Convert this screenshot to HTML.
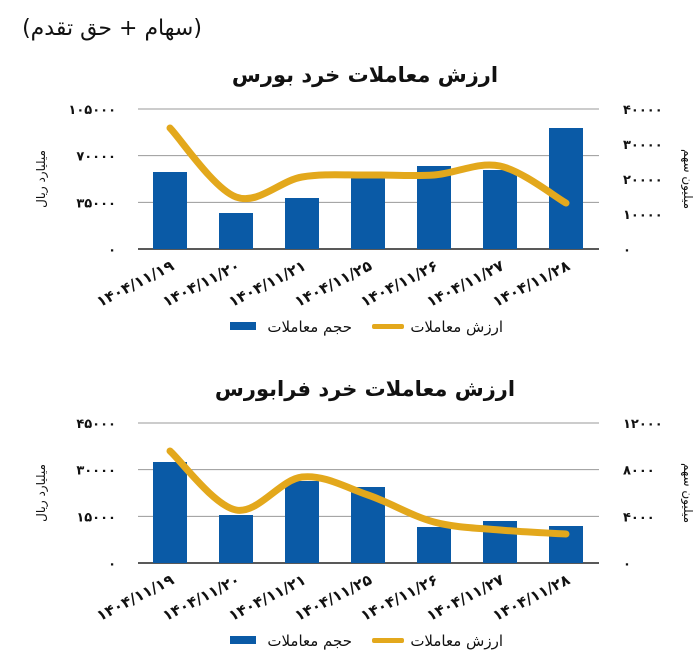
<!DOCTYPE html>
<html><head><meta charset="utf-8"><style>
body{margin:0;background:#fff;width:700px;height:663px;overflow:hidden}
svg{display:block}
text{font-family:"DejaVu Sans","Liberation Sans",sans-serif}
</style></head><body>
<svg id="s" width="700" height="663" xmlns="http://www.w3.org/2000/svg">
<text x="112" y="35" font-size="22" text-anchor="middle" fill="#111">(سهام + حق تقدم)</text>
<text x="365" y="82" font-size="21" font-weight="bold" text-anchor="middle" fill="#111">ارزش معاملات خرد بورس</text>
<text x="365" y="396" font-size="21" font-weight="bold" text-anchor="middle" fill="#111">ارزش معاملات خرد فرابورس</text>
<g id="c1"></g><g id="c2"></g>
</svg>
<script>
const NS="http://www.w3.org/2000/svg";
const dates=["۱۴۰۴/۱۱/۱۹","۱۴۰۴/۱۱/۲۰","۱۴۰۴/۱۱/۲۱","۱۴۰۴/۱۱/۲۵","۱۴۰۴/۱۱/۲۶","۱۴۰۴/۱۱/۲۷","۱۴۰۴/۱۱/۲۸"];
const xs=[170,236,302,368,434,500,566];
function el(p,t,a,txt){const e=document.createElementNS(NS,t);for(const k in a)e.setAttribute(k,a[k]);if(txt!==undefined)e.textContent=txt;p.appendChild(e);return e;}
function chart(g,top,base,ll,rl,bars,line,legY){
  const step=(base-top)/3;
  for(let i=0;i<4;i++){const y=top+i*step;
    el(g,"line",{x1:138,x2:599,y1:y,y2:y,stroke:i==3?"#222":"#999","stroke-width":i==3?1.5:1});
    el(g,"text",{x:116,y:y+5,"font-size":13,"font-weight":"bold","text-anchor":"end",fill:"#111"},ll[3-i]);
  }
  const rs=(base-top)/(rl.length-1);
  rl.forEach((v,i)=>el(g,"text",{x:623,y:base-i*rs+5,"font-size":13,"font-weight":"bold",fill:"#111"},v));
  const my=(top+base)/2;
  el(g,"text",{x:0,y:0,"font-size":12,"text-anchor":"middle",fill:"#111",transform:`translate(45,${my}) rotate(-90)`},"میلیارد ریال");
  el(g,"text",{x:0,y:0,"font-size":12,"text-anchor":"middle",fill:"#111",transform:`translate(684,${my}) rotate(90)`},"میلیون سهم");
  bars.forEach((b,i)=>el(g,"rect",{x:xs[i]-17,y:b,width:34,height:base-b,fill:"#0a5aa6"}));
  let d=`M${xs[0]},${line[0]}`;
  for(let i=0;i<6;i++){
    const p0=[xs[Math.max(i-1,0)],line[Math.max(i-1,0)]],p1=[xs[i],line[i]],p2=[xs[i+1],line[i+1]],p3=[xs[Math.min(i+2,6)],line[Math.min(i+2,6)]];
    const c1=[p1[0]+(p2[0]-p0[0])/6,p1[1]+(p2[1]-p0[1])/6],c2=[p2[0]-(p3[0]-p1[0])/6,p2[1]-(p3[1]-p1[1])/6];
    d+=` C${c1[0]},${c1[1]} ${c2[0]},${c2[1]} ${p2[0]},${p2[1]}`;
  }
  el(g,"path",{d,fill:"none",stroke:"#e3a81c","stroke-width":7,"stroke-linecap":"round"});
  dates.forEach((t,i)=>el(g,"text",{x:0,y:0,"font-size":15,"font-weight":"bold","text-anchor":"end",fill:"#111",transform:`translate(${xs[i]+5},${base+20}) rotate(-27)`},t));
  el(g,"rect",{x:230,y:legY-6,width:26,height:8,fill:"#0a5aa6"});
  el(g,"text",{x:352,y:legY+4,"font-size":15,"text-anchor":"end",fill:"#111"},"حجم معاملات");
  el(g,"rect",{x:372,y:legY-4,width:32,height:5,rx:2,fill:"#e3a81c"});
  el(g,"text",{x:503,y:legY+4,"font-size":15,"text-anchor":"end",fill:"#111"},"ارزش معاملات");
}
chart(document.getElementById("c1"),109,249,["۰","۳۵۰۰۰","۷۰۰۰۰","۱۰۵۰۰۰"],["۰","۱۰۰۰۰","۲۰۰۰۰","۳۰۰۰۰","۴۰۰۰۰"],[172,213,198,178,166,170,128],[128,197,177,175,175,166,203],328);
chart(document.getElementById("c2"),423,563,["۰","۱۵۰۰۰","۳۰۰۰۰","۴۵۰۰۰"],["۰","۴۰۰۰","۸۰۰۰","۱۲۰۰۰"],[462,515,481,487,527,521,526],[451,510,477,495,522,530,534],642);
</script>
</body></html>
